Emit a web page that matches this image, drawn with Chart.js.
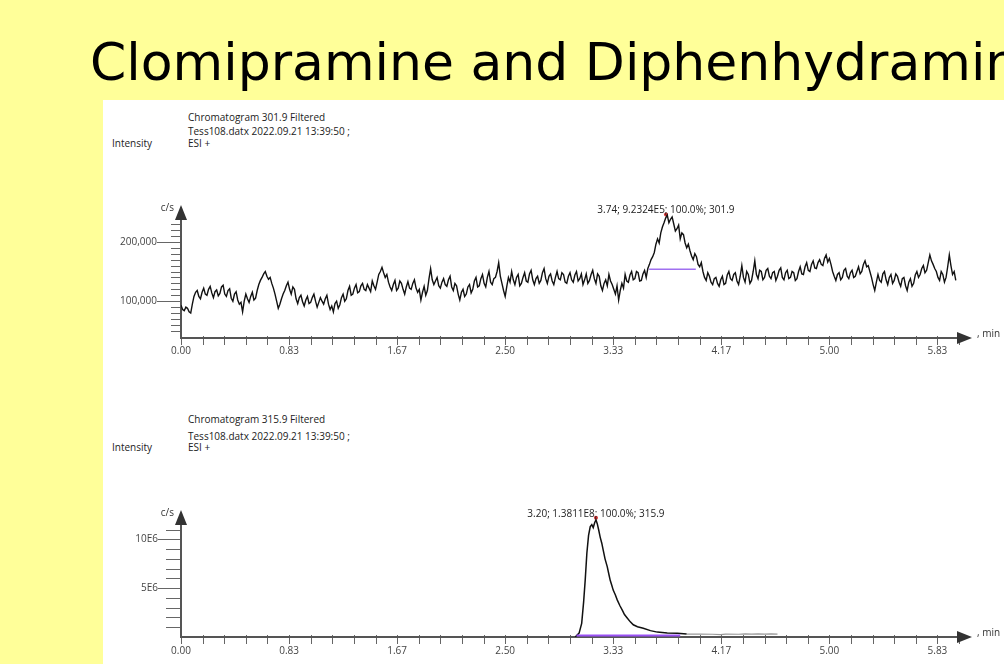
<!DOCTYPE html>
<html>
<head>
<meta charset="utf-8">
<script src="https://cdn.jsdelivr.net/npm/chart.js@4.4.0/dist/chart.umd.min.js"></script>
<style>
  html, body { margin: 0; padding: 0; }
  body { width: 1004px; height: 664px; overflow: hidden; background: #ffff99; position: relative; font-family: 'Open Sans', sans-serif; }
  #title { position: absolute; left: 90px; top: 36px; font-family: 'DejaVu Sans'; font-size: 52px; line-height: 52px; white-space: nowrap; color: #000; }
  #panel { position: absolute; left: 103px; top: 100px; width: 901px; height: 564px; background: #fff; overflow: hidden; }
  .hdr { position: absolute; font-size: 10px; line-height: 12px; color: #222; white-space: nowrap; }
  canvas { position: absolute; left: 0; }
</style>
</head>
<body>
<div id="title">Clomipramine and Diphenhydramine</div>
<div id="panel">
  <div class="hdr" style="left:85px; top:11px;">Chromatogram 301.9 Filtered</div>
  <div class="hdr" style="left:85px; top:25px;">Tess108.datx 2022.09.21 13:39:50 ;</div>
  <div class="hdr" style="left:85px; top:37px;">ESI +</div>
  <div class="hdr" style="left:9px; top:37px;">Intensity</div>
  <canvas id="chartTop" width="901" height="280" style="top:0px;"></canvas>

  <div class="hdr" style="left:85px; top:313px;">Chromatogram 315.9 Filtered</div>
  <div class="hdr" style="left:85px; top:330px;">Tess108.datx 2022.09.21 13:39:50 ;</div>
  <div class="hdr" style="left:85px; top:341px;">ESI +</div>
  <div class="hdr" style="left:9px; top:341px;">Intensity</div>
  <canvas id="chartBottom" width="901" height="266" style="top:300px;"></canvas>
</div>

<script>
// ---- Chromatogram 301.9 (sampled every 0.0125 min, values in thousands c/s)
const topStartMin = 0;
const topStepMin = 0.0125;
const topIntensityK = [
    93, 86, 84, 90, 88, 82, 80, 95, 108, 115,
    118, 108, 104, 115, 122, 112, 110, 120, 125, 114, 106, 116, 119, 109, 113, 124, 127, 112, 108, 118,
    121, 105, 100, 112, 116, 102, 95, 98, 82, 100,
    112, 104, 98, 108, 115, 102, 105, 118, 128, 135, 140, 146, 150, 142, 137, 140, 130, 122, 112, 100, 88, 95, 104, 112,
    118, 126, 132, 120, 112, 124, 120, 104, 96, 106, 110, 99, 92, 102, 108, 96, 98, 106, 112, 100, 90, 98,
    106, 100, 95, 104, 110, 95, 86, 92, 82, 96, 100, 88, 94, 106,
    112, 100, 104, 118, 125, 110, 112, 122, 128, 114, 116, 126, 130, 120, 118, 128, 122, 116, 134, 126,
    120, 132, 145, 150, 157, 148, 140, 145, 132, 124, 118, 128, 135, 118, 122, 134, 130, 120, 112, 124,
    133, 122, 120, 130, 136, 122, 115, 120, 102, 115, 125, 110, 118, 138, 155, 136, 128, 134, 140, 126,
    122, 132, 138, 128, 125, 136, 142, 124, 118, 130, 126, 112, 102, 115, 120, 108, 112, 124, 128, 114,
    120, 134, 140, 124, 126, 138, 145, 130, 124, 140, 150, 132, 128, 138, 140, 150, 165, 142, 130, 118,
    108, 125, 140, 132, 150, 136, 128, 140, 145, 126, 130, 140, 148, 134, 132, 146, 152, 136, 128, 138,
    142, 130, 135, 148, 155, 138, 130, 142, 146, 134, 128, 140, 150, 138, 136, 148, 145, 132, 130, 142,
    148, 136, 132, 144, 150, 134, 138, 146, 128, 136, 146, 130, 135, 145, 152, 138, 130, 146, 142, 126,
    118, 130, 136, 126, 145, 134, 128, 120, 112, 126, 102, 118, 130, 122, 145, 134, 132, 144, 150, 136,
    138, 150, 148, 134, 135, 146, 152, 140, 155, 162,
    170, 175, 182, 196, 205, 198, 215, 225, 232, 240, 245, 232, 238, 242, 230, 218, 222, 228, 205, 215,
    212, 198, 190, 196, 185, 176, 170, 180, 175, 162, 158, 165, 150, 140, 135, 148, 142, 132, 128, 138,
    140, 130, 125, 136, 142, 128, 130, 144, 150, 138,
    135, 145, 148, 134, 128, 142, 160, 140, 132, 150, 145, 130, 135, 150, 168, 145, 138, 152, 150, 136,
    140, 152, 155, 142, 138, 148, 150, 135, 142, 152, 156, 140, 136, 148, 152, 138, 140, 150, 148, 135,
    138, 150,
    158, 146, 145, 158, 165, 152, 150, 162, 168, 156, 155, 165, 170, 162, 160, 172, 178, 166, 172, 162,
    150, 142, 135, 145, 148, 136, 140, 152, 155, 142, 138, 148, 152, 140, 142, 150, 158, 146,
    150, 162, 168, 158, 160, 150, 140, 128, 118, 132, 145, 135, 132, 146, 150, 136, 128, 140, 145, 130,
    135, 146, 142, 132, 125, 138, 140, 126, 118, 132, 138, 125, 130, 144, 150, 140, 145, 155, 160, 148,
    152, 165, 178, 168, 162, 155, 150, 140, 135, 150, 145, 132, 140, 158, 178, 160, 145, 150, 135
];
const topBaselineTimes = [3.61, 3.97];
const topBaselineValues = [154000, 154000];
const topPeak = { time: 3.74, value: 246000, text: '3.74; 9.2324E5; 100.0%; 301.9' };

// ---- Chromatogram 315.9 (values in millions c/s)
const bottomTimes = [3.04, 3.07, 3.09, 3.105, 3.117, 3.13, 3.143, 3.156, 3.168, 3.179, 3.19, 3.2, 3.21, 3.222, 3.233, 3.245, 3.256, 3.27, 3.287, 3.3, 3.31, 3.322, 3.333, 3.35, 3.364, 3.385, 3.403, 3.42, 3.441, 3.465, 3.488, 3.52, 3.565, 3.62, 3.673, 3.75, 3.827, 3.9];
const bottomIntensityM = [0, 0.4, 1.4, 3.6, 5.8, 8.6, 10.4, 11.3, 11.5, 11.2, 11.7, 12.0, 11.6, 10.9, 10.2, 9.6, 8.9, 8.0, 7.2, 6.4, 5.8, 5.3, 4.8, 4.3, 3.8, 3.2, 2.75, 2.3, 1.95, 1.55, 1.25, 1.05, 0.9, 0.65, 0.5, 0.42, 0.38, 0.3];
const bottomTailTimes = [3.9, 4.0, 4.1, 4.16, 4.2, 4.3, 4.35, 4.4, 4.45, 4.5, 4.55, 4.6];
const bottomTailM = [0.3, 0.3, 0.28, 0.25, 0.3, 0.28, 0.32, 0.3, 0.33, 0.3, 0.32, 0.3];
const bottomBaselineTimes = [3.05, 3.85];
const bottomBaselineM = [0.15, 0.15];
const bottomPeak = { time: 3.2, value: 12.2e6, text: '3.20; 1.3811E8; 100.0%; 315.9' };

// ---- axes
const xMaxMin = 6.1;
const xTickStep = 1 / 6;
const xTickCount = 37;          // 0.00 .. 6.00
const xLabelEvery = 5;          // 0.00, 0.83, 1.67 ...
const topYTicks = [50000, 60000, 70000, 80000, 90000, 100000, 110000, 120000, 130000, 140000, 150000,
                   160000, 170000, 180000, 190000, 200000, 210000, 220000, 230000];
const topYLabelled = [100000, 200000];
const bottomYTicks = [1e6, 2e6, 3e6, 4e6, 5e6, 6e6, 7e6, 8e6, 9e6, 10e6, 11e6];
const bottomYLabelled = [5e6, 10e6];

Chart.defaults.font.family = "'Open Sans', sans-serif";
Chart.defaults.font.size = 10;
Chart.defaults.color = '#333';

function xy(times, values, unit) {
    return times.map((t, i) => ({ x: t, y: values[i] * unit }));
}

const xTickValues = [];
for (let i = 0; i < xTickCount; i++) xTickValues.push(i * xTickStep);

/**
 * Draws the arrowed axes, tick marks and the peak label
 */
const chromAxes = {
    id: 'chromAxes',
    beforeDatasetsDraw(chart, args, opts) {
        const ctx = chart.ctx;
        const area = chart.chartArea;
        const x = chart.scales.x, y = chart.scales.y;
        const ax = area.left, ay = area.bottom;
        ctx.save();

        // tick marks
        ctx.strokeStyle = '#666';
        ctx.lineWidth = 1;
        ctx.beginPath();
        x.ticks.forEach(t => {
            const px = Math.round(x.getPixelForValue(t.value)) + 0.5;
            ctx.moveTo(px, ay - 2);
            ctx.lineTo(px, ay + 7);
        });
        y.ticks.forEach(t => {
            const py = Math.round(y.getPixelForValue(t.value)) + 0.5;
            const len = t.label ? opts.majorLen : opts.minorLen;
            ctx.moveTo(ax - len, py);
            ctx.lineTo(ax, py);
        });
        ctx.stroke();

        // axis lines
        ctx.strokeStyle = '#555';
        ctx.lineWidth = 2;
        ctx.beginPath();
        ctx.moveTo(ax, area.top + 8);
        ctx.lineTo(ax, ay);
        ctx.lineTo(area.right - 8, ay);
        ctx.stroke();

        // arrow heads
        ctx.fillStyle = '#333';
        ctx.beginPath();
        ctx.moveTo(area.right, ay);
        ctx.lineTo(area.right - 15, ay - 6);
        ctx.lineTo(area.right - 15, ay + 6);
        ctx.closePath();
        ctx.fill();
        ctx.beginPath();
        ctx.moveTo(ax, area.top);
        ctx.lineTo(ax - 6, area.top + 15);
        ctx.lineTo(ax + 6, area.top + 15);
        ctx.closePath();
        ctx.fill();

        // axis units
        ctx.fillStyle = '#333';
        ctx.font = "10px 'Open Sans', sans-serif";
        ctx.textAlign = 'right';
        ctx.textBaseline = 'middle';
        ctx.fillText('c/s', ax - 7, area.top + 3);
        ctx.textAlign = 'left';
        ctx.fillText(', min', area.right + 5, ay - 4);
        ctx.restore();
    },
    afterDatasetsDraw(chart, args, opts) {
        const ctx = chart.ctx;
        const px = chart.scales.x.getPixelForValue(opts.peak.time);
        const py = chart.scales.y.getPixelForValue(opts.peak.value);
        ctx.save();
        ctx.fillStyle = '#222';
        ctx.font = "10px 'Open Sans', sans-serif";
        ctx.textAlign = 'center';
        ctx.textBaseline = 'bottom';
        ctx.fillText(opts.peak.text, px, py + 1);
        ctx.restore();
    }
};

function makeChart(id, cfg) {
    return new Chart(document.getElementById(id).getContext('2d'), {
        type: 'line',
        data: { datasets: cfg.datasets },
        options: {
            responsive: false,
            animation: false,
            layout: { padding: { top: cfg.padTop, right: 32, left: 0, bottom: 0 } },
            plugins: {
                legend: { display: false },
                tooltip: { enabled: false },
                chromAxes: { peak: cfg.peak, majorLen: cfg.majorLen, minorLen: cfg.minorLen }
            },
            scales: {
                x: {
                    type: 'linear',
                    min: 0,
                    max: xMaxMin,
                    grid: { display: false, drawTicks: false },
                    border: { display: false },
                    afterBuildTicks: scale => { scale.ticks = xTickValues.map(v => ({ value: v })); },
                    afterFit: scale => { scale.height = cfg.xHeight; },
                    ticks: {
                        autoSkip: false,
                        maxRotation: 0,
                        padding: cfg.xPad,
                        color: '#444',
                        callback: (v, i) => (i % xLabelEvery === 0 ? v.toFixed(2) : '')
                    }
                },
                y: {
                    type: 'linear',
                    min: cfg.yMin,
                    max: cfg.yMax,
                    grid: { display: false, drawTicks: false },
                    border: { display: false },
                    afterBuildTicks: scale => { scale.ticks = cfg.yTicks.map(v => ({ value: v })); },
                    afterFit: scale => { scale.width = 78; },
                    ticks: {
                        autoSkip: false,
                        padding: cfg.majorLen,
                        color: '#444',
                        callback: v => (cfg.yLabelled.includes(v) ? cfg.yFormat(v) : '')
                    }
                }
            }
        },
        plugins: [chromAxes]
    });
}

const topTrace = topIntensityK.map((v, i) => ({ x: topStartMin + i * topStepMin, y: v * 1000 }));

makeChart('chartTop', {
    padTop: 105,
    xHeight: 42,
    xPad: 7,
    yMin: 38000,
    yMax: 262000,
    yTicks: topYTicks,
    yLabelled: topYLabelled,
    yFormat: v => v.toLocaleString('en-US'),
    majorLen: 24,
    minorLen: 10,
    peak: topPeak,
    datasets: [
        { data: topTrace, borderColor: '#111', borderWidth: 1.4, pointRadius: 0, tension: 0 },
        { data: xy(topBaselineTimes, topBaselineValues, 1), borderColor: '#a070f0', borderWidth: 1.5, pointRadius: 0 },
        { data: [{ x: topPeak.time, y: topPeak.value }], showLine: false, pointRadius: 2, pointBackgroundColor: '#d83030', pointBorderWidth: 0 }
    ]
});

makeChart('chartBottom', {
    padTop: 110,
    xHeight: 24,
    xPad: 8,
    yMin: 0,
    yMax: 13e6,
    yTicks: bottomYTicks,
    yLabelled: bottomYLabelled,
    yFormat: v => (v / 1e6) + 'E6',
    majorLen: 23,
    minorLen: 15,
    peak: bottomPeak,
    datasets: [
        { data: xy(bottomBaselineTimes, bottomBaselineM, 1e6), borderColor: '#9a50f5', borderWidth: 2, pointRadius: 0 },
        { data: xy(bottomTailTimes, bottomTailM, 1e6), borderColor: '#999', borderWidth: 1.2, pointRadius: 0 },
        { data: xy(bottomTimes, bottomIntensityM, 1e6), borderColor: '#111', borderWidth: 1.5, pointRadius: 0, tension: 0 },
        { data: [{ x: bottomPeak.time, y: bottomPeak.value }], showLine: false, pointRadius: 2, pointBackgroundColor: '#d83030', pointBorderWidth: 0 }
    ]
});
</script>
</body>
</html>
